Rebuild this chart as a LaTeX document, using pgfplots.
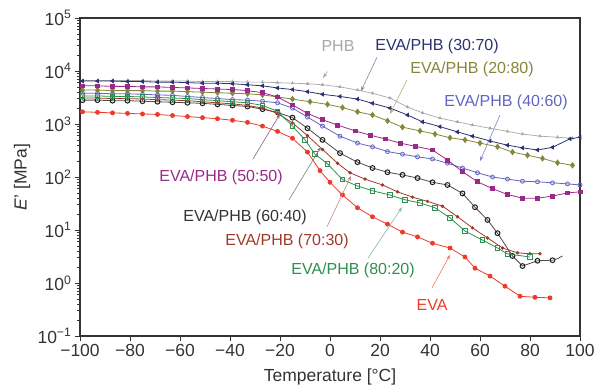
\documentclass[border=0pt]{standalone}
\usepackage{fontspec}
\setmainfont{Liberation Sans}
\usepackage{pgfplots}
\usepackage{pgfplotstable}
\pgfplotsset{compat=1.18}
\usetikzlibrary{arrows.meta}

\definecolor{cPHB}{HTML}{A8A8A8}
\definecolor{cA}{HTML}{2C3470}   % 30:70
\definecolor{cB}{HTML}{86863A}   % 20:80
\definecolor{cC}{HTML}{6464C2}   % 40:60
\definecolor{cD}{HTML}{9A2A8A}   % 50:50
\definecolor{cE}{HTML}{1E1E1E}   % 60:40
\definecolor{cF}{HTML}{A03A28}   % 70:30
\definecolor{cG}{HTML}{2E9050}   % 80:20
\definecolor{cEVA}{HTML}{EE3A2A}
\definecolor{labgray}{HTML}{333333}

% storage modulus, columns: temperature [C], log10(E' / MPa)
\pgfplotstableread{
T L
-99 3.82
-93 3.82
-87 3.82
-81 3.82
-75 3.82
-69 3.81
-63 3.81
-57 3.81
-51 3.80
-45 3.80
-39 3.80
-33 3.79
-27 3.79
-21 3.78
-15 3.77
-9 3.76
-3 3.74
4 3.70
11 3.64
17 3.58
24 3.49
31 3.32
37 3.21
44 3.11
51 3.04
57 2.98
64 2.92
71 2.86
77 2.81
84 2.77
91 2.75
97 2.73
}\phb

\pgfplotstableread{
T L
-99 3.81
-93 3.81
-87 3.81
-81 3.80
-75 3.80
-69 3.79
-63 3.79
-57 3.78
-51 3.77
-45 3.77
-39 3.76
-33 3.74
-27 3.72
-21 3.68
-15 3.65
-9 3.61
-3 3.56
4 3.52
11 3.47
17 3.39
24 3.30
31 3.17
37 3.04
44 2.95
51 2.85
57 2.77
64 2.68
71 2.60
77 2.55
83 2.51
89 2.56
96 2.72
100 2.75
}\blendA

\pgfplotstableread{
T L
-99 3.64
-93 3.64
-87 3.63
-81 3.63
-75 3.63
-69 3.62
-63 3.62
-57 3.61
-51 3.60
-45 3.59
-39 3.58
-33 3.57
-27 3.55
-21 3.51
-15 3.47
-8 3.42
-1 3.37
5 3.31
11 3.23
17 3.17
23 3.06
29 2.94
36 2.87
42 2.81
48 2.74
54 2.70
60 2.64
67 2.57
73 2.47
79 2.41
85 2.35
91 2.27
97 2.22
}\blendB

\pgfplotstableread{
T L
-99 3.58
-93 3.58
-87 3.57
-81 3.57
-75 3.56
-69 3.55
-63 3.54
-57 3.52
-51 3.50
-45 3.48
-39 3.46
-33 3.45
-27 3.43
-21 3.40
-15 3.30
-9 3.13
-3 2.96
4 2.77
11 2.64
17 2.57
23 2.48
29 2.43
35 2.38
41 2.34
47 2.26
53 2.17
59 2.08
65 2.00
71 1.96
77 1.92
83 1.91
89 1.89
95 1.87
100 1.85
}\blendC

\pgfplotstableread{
T L
-99 3.72
-93 3.72
-87 3.71
-81 3.71
-75 3.70
-69 3.70
-63 3.69
-57 3.68
-51 3.67
-45 3.66
-39 3.65
-33 3.63
-27 3.59
-21 3.51
-15 3.36
-9 3.20
-3 3.08
3 2.98
10 2.87
16 2.79
22 2.72
28 2.64
34 2.58
41 2.51
47 2.32
53 2.10
59 1.91
65 1.78
71 1.67
77 1.60
83 1.60
89 1.64
95 1.70
100 1.72
}\blendD

\pgfplotstableread{
T L
-99 3.45
-93 3.45
-87 3.44
-81 3.44
-75 3.43
-69 3.42
-63 3.41
-57 3.40
-51 3.39
-45 3.37
-39 3.35
-33 3.33
-27 3.28
-21 3.22
-15 3.12
-9 2.92
-3 2.70
4 2.45
11 2.28
17 2.17
23 2.09
29 2.04
35 1.98
41 1.90
47 1.85
53 1.69
58 1.43
63 1.19
67 0.94
73 0.51
77 0.32
83 0.42
89 0.43
}\blendE

\pgfplotstableread{
T L
-99 3.49
-93 3.49
-87 3.48
-81 3.48
-75 3.47
-69 3.46
-63 3.45
-57 3.44
-51 3.42
-45 3.40
-39 3.38
-33 3.35
-27 3.30
-21 3.20
-15 3.02
-9 2.78
-3 2.52
3 2.26
8 2.08
14 1.96
21 1.85
27 1.72
33 1.62
39 1.54
45 1.45
51 1.25
57 1.04
63 0.85
69 0.66
75 0.57
80 0.55
84 0.55
}\blendF

\pgfplotstableread{
T L
-99 3.53
-93 3.53
-87 3.52
-81 3.52
-75 3.51
-69 3.50
-63 3.49
-57 3.48
-51 3.46
-45 3.44
-39 3.42
-33 3.40
-27 3.35
-21 3.24
-15 2.96
-10 2.70
-6 2.43
-1 2.25
5 1.95
11 1.83
17 1.74
24 1.66
30 1.57
36 1.51
42 1.42
48 1.23
54 0.98
61 0.81
67 0.66
71 0.55
80 0.49
}\blendG

\pgfplotstableread{
T L
-99 3.23
-93 3.22
-87 3.21
-81 3.20
-75 3.19
-69 3.18
-63 3.16
-57 3.14
-51 3.12
-45 3.10
-39 3.07
-33 3.03
-27 2.96
-21 2.86
-15 2.73
-9 2.47
-4 2.12
0 1.90
5 1.66
11 1.42
17 1.25
23 1.11
29 0.96
35 0.87
41 0.75
48 0.66
54 0.49
58 0.28
64 0.13
70 -0.06
76 -0.25
82 -0.27
88 -0.28
}\eva

\newcommand{\bigfont}{\fontsize{17.5}{20}\selectfont}
\newcommand{\annfont}{\fontsize{16}{18}\selectfont}

\begin{document}
\begin{tikzpicture}
\begin{axis}[
  scale only axis,
  width=500pt, height=318pt,
  xmin=-100, xmax=100, ymin=-1, ymax=5,
  xtick={-100,-80,...,100},
  xticklabels={−100,−80,−60,−40,−20,0,20,40,60,80,100},
  ytick={-1,0,1,2,3,4,5},
  yticklabels={10\textsuperscript{−1},10\textsuperscript{0},10\textsuperscript{1},10\textsuperscript{2},10\textsuperscript{3},10\textsuperscript{4},10\textsuperscript{5}},
  minor ytick={-0.699,-0.523,-0.398,-0.301,-0.222,-0.155,-0.097,-0.046,
    0.301,0.477,0.602,0.699,0.778,0.845,0.903,0.954,
    1.301,1.477,1.602,1.699,1.778,1.845,1.903,1.954,
    2.301,2.477,2.602,2.699,2.778,2.845,2.903,2.954,
    3.301,3.477,3.602,3.699,3.778,3.845,3.903,3.954,
    4.301,4.477,4.602,4.699,4.778,4.845,4.903,4.954},
  xtick pos=bottom, ytick pos=left,
  tick align=outside,
  major tick length=5pt, minor tick length=3pt,
  tick style={labgray, line width=0.8pt},
  axis line style={draw=labgray, line width=1.1pt},
  tick label style={font=\bigfont, text=labgray},
  xlabel={Temperature [°C]},
  ylabel={\textit{E}' [MPa]},
  label style={font=\bigfont, text=labgray},
  xlabel style={at={(axis description cs:0.5,-0.13)}, anchor=center},
  ylabel style={at={(axis description cs:-0.116,0.5)}, anchor=center},
  clip mode=individual,
]
\coordinate (ll) at (rel axis cs:0,0);
\coordinate (ur) at (rel axis cs:1,1);

\addplot[cPHB, line width=0.7pt, mark=triangle*, mark size=1.4pt] table[x=T,y=L] {\phb};
\addplot[cA, line width=0.8pt, mark=triangle*, mark size=1.9pt, mark options={rotate=90}] table[x=T,y=L] {\blendA};
\addplot[cB, line width=0.8pt, mark=diamond*, mark size=2.6pt] table[x=T,y=L] {\blendB};
\addplot[cC, line width=0.8pt, mark=o, mark size=2pt, mark options={fill=white}] table[x=T,y=L] {\blendC};
\addplot[cD, line width=0.8pt, mark=square*, mark size=1.9pt] table[x=T,y=L] {\blendD};
\addplot[cE!80, line width=0.8pt, mark=o, mark size=2.4pt, mark options={draw=cE, line width=1pt}] table[x=T,y=L] {\blendE};
\addplot[cE!80, line width=0.8pt] coordinates {(89,0.43) (91,0.46) (93,0.51)};
\addplot[cF, line width=0.8pt, mark=*, mark size=1.3pt] table[x=T,y=L] {\blendF};
\addplot[cG, line width=0.8pt, mark=square, mark size=2.3pt, mark options={line width=0.9pt, fill=white}] table[x=T,y=L] {\blendG};
\addplot[cEVA, line width=0.8pt, mark=*, mark size=2pt] table[x=T,y=L] {\eva};

% leader arrows
\tikzset{lead/.style={line width=0.6pt, -{Stealth[length=5pt,width=3.5pt]}}}
\draw[lead, cPHB] (axis cs:-1.0,3.99) -- (axis cs:-2.8,3.87);
\draw[lead, cA!60] (axis cs:18.8,4.26) -- (axis cs:12.4,3.62);
\draw[lead, cB!70] (axis cs:30.8,3.83) -- (axis cs:24,3.19);
\draw[lead, cC!80] (axis cs:68,3.17) -- (axis cs:60,2.30);
\draw[lead, cD!40!gray] (axis cs:-30.8,2.34) -- (axis cs:-20,3.19);
\draw[lead, gray] (axis cs:-16.4,1.57) -- (axis cs:-3.6,2.57);
\draw[lead, cF!60] (axis cs:-1.2,1.06) -- (axis cs:8.4,2.02);
\draw[lead, cG!60] (axis cs:15.2,0.47) -- (axis cs:28.8,1.43);
\draw[lead, cEVA!70] (axis cs:40.8,-0.09) -- (axis cs:48,0.53);

% series names
\node[font=\annfont, text=cPHB] at (axis cs:3.2,4.47) {PHB};
\node[font=\annfont, text=cA] at (axis cs:42.8,4.47) {EVA/PHB (30:70)};
\node[font=\annfont, text=cB] at (axis cs:56.8,4.04) {EVA/PHB (20:80)};
\node[font=\annfont, text=cC] at (axis cs:70.4,3.40) {EVA/PHB (40:60)};
\node[font=\annfont, text=cD] at (axis cs:-43.6,2.0) {EVA/PHB (50:50)};
\node[font=\annfont, text=black!80] at (axis cs:-34,1.23) {EVA/PHB (60:40)};
\node[font=\annfont, text=cF] at (axis cs:-17.2,0.79) {EVA/PHB (70:30)};
\node[font=\annfont, text=cG] at (axis cs:9.2,0.245) {EVA/PHB (80:20)};
\node[font=\annfont, text=cEVA] at (axis cs:40.8,-0.415) {EVA};
\end{axis}
\pgfresetboundingbox
\path (ll) ++(-80pt,-51pt) (ur) ++(19pt,18pt);
\end{tikzpicture}
\end{document}
